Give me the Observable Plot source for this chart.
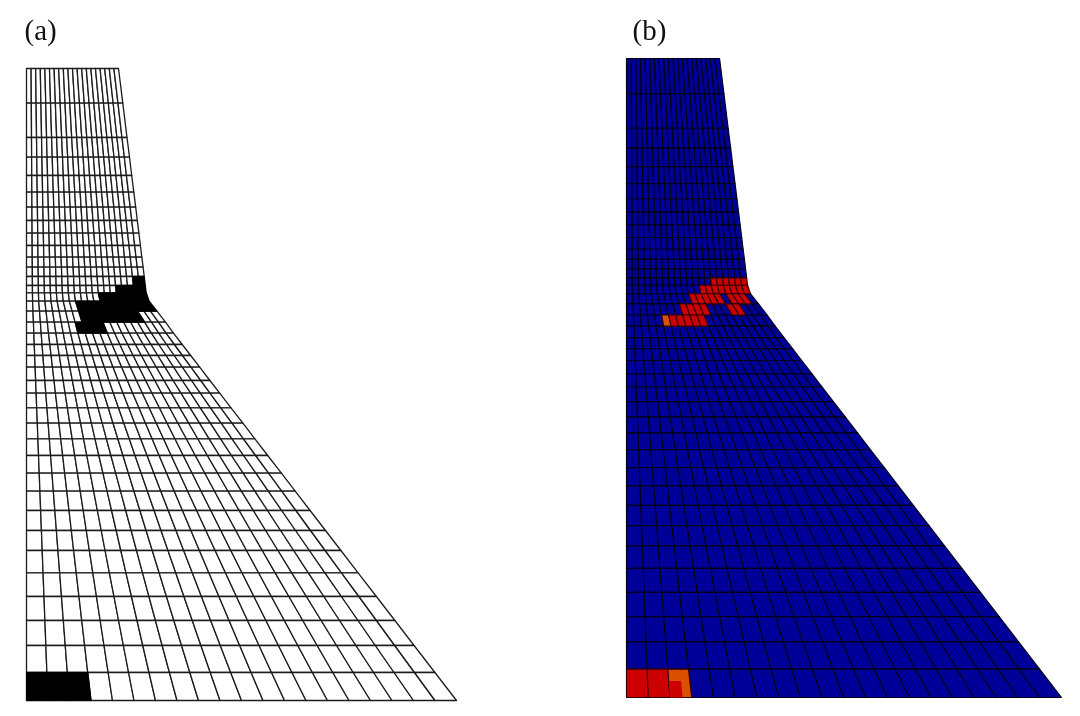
<!DOCTYPE html>
<html>
<head>
<meta charset="utf-8">
<script src="https://cdn.jsdelivr.net/npm/d3@7"></script>
<script src="https://cdn.jsdelivr.net/npm/@observablehq/plot@0.6"></script>
<style>
html,body{margin:0;padding:0;background:#fff;}
#root{position:relative;width:1080px;height:716px;overflow:hidden;}
#root>div{position:absolute;top:0;width:540px;height:716px;}
#root svg{display:block;background:transparent;filter:blur(0.5px);}
</style>
</head>
<body>
<div id="root"><div id="a" style="left:0"></div><div id="b" style="left:540px"></div></div>
<script>
// Mesh geometry (model units, base at elevation 0)
const elevations = [632,597.3,563,543.3,525,508.3,493.3,480,467.3,455,443.3,433.3,424,415,407.7,399.3,389.3,378.3,367.3,356,345,333.3,320,307.3,292.7,277.3,261.7,245,227.3,209.3,190,170,150,127.7,104,80,55,28,0];
const halfWidths = [92,96.3,100.5,103,105.2,107.3,109.2,110.8,112.4,113.9,115.3,116.6,117.7,118.8,119.7,122.6,130.5,139,147,155.7,164.2,173.2,183.4,193.2,204.5,216.4,228.4,241.2,254.9,268.7,283.6,299,314.4,331.6,349.9,368.4,387.6,408.4,430];
const columnCount = 20;

// Damaged elements: [row, first column, last column]
const cracksA = [[12,18,19],[13,15,19],[14,12,19],[15,8,19],[16,8,16],[17,7,10],[37,0,2]];
const severeB = [[13,14,19],[14,12,19],[15,10,14],[15,16,18],[16,8,11],[16,15,16],[17,6,10],[37,0,1]];
const moderateB = [[17,5,5],[37,2,2]];
// Partly severe element inside the moderate one: [row, first column, column end, top fraction]
const innerSevereB = [[37,2,2.58,0.42]];

const stateNames = ["intact","cracked","severe","moderate"];
const stateColors = ["#ffffff","#000000","#cc0000","#d95000"];
const stateColorsB = ["#000099","#000000","#cc0000","#d95000"];
const panelLabels = ["(a)","(b)"];

function node(r,c){
  const j=Math.floor(r), f=r-j, k=Math.min(j+1,elevations.length-1);
  const w=halfWidths[j]+(halfWidths[k]-halfWidths[j])*f;
  return {x:w*c/columnCount, y:elevations[j]+(elevations[k]-elevations[j])*f};
}
function cellPoints(id,state,r0,r1,c0,c1){
  return [[r0,c0],[r0,c1],[r1,c1],[r1,c0],[r0,c0]].map(([r,c])=>({...node(r,c),id,state}));
}
function stateOf(r,c,groups){
  for(const [list,name] of groups) for(const [row,a,b] of list) if(row===r&&c>=a&&c<=b) return name;
  return "intact";
}
function mesh(groups){
  const cells=[];
  d3.range(elevations.length-1).forEach(r=>d3.range(columnCount).forEach(c=>{
    const s=stateOf(r,c,groups);
    cells.push(...cellPoints(r+"_"+c,s,r,r+1,c,c+1));
  }));
  return cells;
}
function panel(el,label,data,colors,lineColor,lineWidth,damagedLine,xRange,yRange,dx,extra){
  const p=Plot.plot({
    width:540,height:716,margin:0,
    x:{domain:[0,430],range:xRange,axis:null},
    y:{domain:[0,632],range:yRange,axis:null},
    color:{type:"ordinal",domain:stateNames,range:colors},
    marks:[
      Plot.line(data.filter(d=>d.state==="intact"),{x:"x",y:"y",z:"id",fill:"state",stroke:lineColor,strokeWidth:lineWidth}),
      Plot.line(data.filter(d=>d.state!=="intact"),{x:"x",y:"y",z:"id",fill:"state",stroke:damagedLine,strokeWidth:lineWidth}),
      ...(extra?[Plot.line(extra,{x:"x",y:"y",z:"id",fill:"state",stroke:"none"})]:[]),
      Plot.text([label],{frameAnchor:"top-left",dx:dx,dy:19,text:d=>d,textAnchor:"start",lineAnchor:"top",fontSize:29,fontFamily:"Liberation Serif",fill:"#111"})
    ]
  });
  document.getElementById(el).appendChild(p);
}
panel("a",panelLabels[0],mesh([[cracksA,"cracked"]]),stateColors,"#1c1c1c",1.3,"#000",[26,456],[700,68],24,null);
const inner=innerSevereB.flatMap(([r,a,b,f],i)=>cellPoints("inner"+i,"severe",r+f,r+1,a,b));
panel("b",panelLabels[1],mesh([[severeB,"severe"],[moderateB,"moderate"]]),stateColorsB,"#000018",1.15,"#300",[86,521],[697,58],92,inner);
</script>
</body>
</html>
